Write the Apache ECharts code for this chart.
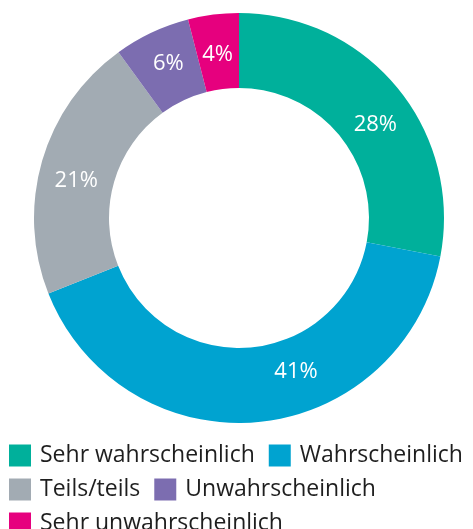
<!DOCTYPE html>
<html>
<head>
    <meta charset="utf-8">
    <title></title>
    <style>
        html, body { margin: 0; padding: 0; background: #fff; }
    </style>
</head>
<body>
<div id="main" style="width: 473px;height:529px;"></div>
    <script type="text/javascript" src="https://cdn.jsdelivr.net/npm/echarts@6/dist/echarts.min.js"></script>
    <script type="text/javascript">
        // Kategorien und Anteile (%)
        var categories = ['Sehr wahrscheinlich', 'Wahrscheinlich', 'Teils/teils', 'Unwahrscheinlich', 'Sehr unwahrscheinlich'];
        var values = [28, 41, 21, 6, 4];
        var colors = ['#00B09B', '#00A3D0', '#A2ABB3', '#7C6DB0', '#E6007E'];
        // Verschiebung der Beschriftungen gegenüber der Segmentmitte
        var labelOffsets = [[5, 15], [41, -16], [1, 10], [2, 0], [0, 6]];

        var charts = echarts.init(document.getElementById('main'));

        var pieData = categories.map(function (name, i) {
            return { name: name, value: values[i], label: { offset: labelOffsets[i] } };
        });

        var option = {
            animation: false,
            color: colors,
            legend: {
                left: 9,
                top: 444,
                width: 465,
                padding: 0,
                itemWidth: 22,
                itemHeight: 22,
                itemGap: 11,
                icon: 'rect',
                textStyle: {
                    color: '#1e1e1e',
                    fontSize: 23,
                    lineHeight: 22,
                    fontFamily: 'Open Sans',
                    padding: [0, 3, 0, 4]
                },
                data: categories
            },
            series: [{
                type: 'pie',
                center: [239, 218],
                radius: [130, 205],
                startAngle: 90,
                clockwise: true,
                avoidLabelOverlap: false,
                label: {
                    show: true,
                    position: 'inside',
                    formatter: '{c}%',
                    color: '#fff',
                    fontSize: 22,
                    fontFamily: 'Open Sans'
                },
                labelLine: { show: false },
                itemStyle: {
                    borderWidth: 0
                },
                emphasis: { disabled: true },
                data: pieData
            }]
        };

        charts.setOption(option);
    </script>
</body>
</html>
